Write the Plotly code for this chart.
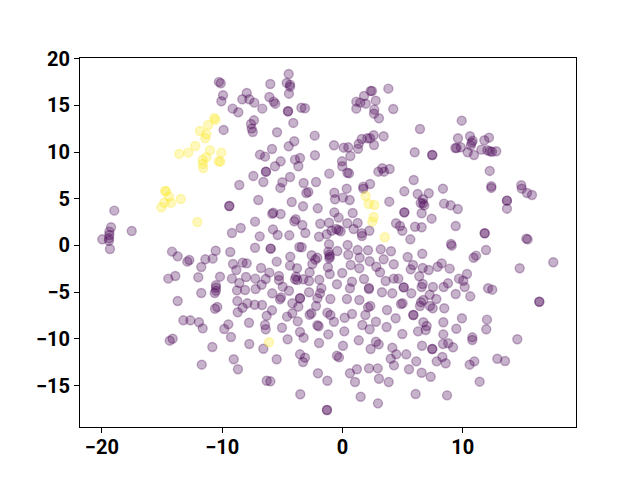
import plotly.graph_objects as go

yellow_x = [-10.66,-10.57,-11.16,-11.85,-11.32,-11.4,-12.24,-12.82,-13.57,-11.01,-10.07,-11.32,-11.62,-11.62,-11.57,-10.29,-10.16,
            -14.75,-14.67,-14.42,-14.81,-15.06,-14.26,-13.45,-12.07,1.93,2.18,2.64,2.59,2.48,3.51,-6.11]
yellow_y = [13.65,13.44,12.9,12.26,11.9,11.48,10.65,9.94,9.8,10.19,9.94,9.44,9.19,8.73,8.3,9.01,8.97,
            5.84,5.8,5.22,4.58,4.09,4.58,4.98,2.52,5.3,4.44,4.34,3.05,2.55,0.88,-10.36]

pairs_top = [
 (-10.27,17.51),(-10.12,17.37),(-9.93,16.08),(-10.07,15.44),(-7.96,16.33),(-8.33,15.65),(-7.75,15.65),(-9.13,14.65),(-8.66,14.26),(-9.88,12.37),(-8.58,6.48),
 (-4.47,18.36),(-6.0,17.29),(-4.64,17.4),(-4.36,17.22),(-4.36,17.0),(-4.45,16.25),(-7.33,15.29),(-6.08,15.9),(-5.72,15.4),(-5.59,15.18),(-6.67,14.65),
 (-4.53,14.37),(-4.53,14.37),(-3.42,14.75),(-3.12,14.69),(-4.09,13.12),(-7.36,13.4),(-7.61,13.01),(-7.55,12.51),(-7.46,12.15),(-5.44,12.12),(-2.31,11.76),
 (-4.01,11.16),(-4.47,10.62),(-5.86,10.33),(-6.86,9.72),(-6.44,9.51),(-2.29,9.66),(-3.53,9.37),(-3.95,9.19),(-5.14,9.01),(-5.61,8.48),(-3.67,8.48),
 (-6.36,7.9),(-6.36,7.9),(-7.41,7.44),(-6.58,6.8),(-5.0,6.77),(-4.36,7.33),(-5.17,6.16),(-3.23,6.69),(-2.2,6.8),(-1.1,7.69),(-0.71,10.73),(0.1,10.47),
 (0.48,10.51),(0.65,9.58),(-0.04,9.01),(-0.02,8.48),(0.4,7.79),(0.54,7.73),(1.29,10.36),(1.35,10.87),(1.6,11.4),(2.06,11.48),(2.29,11.48),(2.59,11.8),
 (3.42,11.69),(2.62,10.76),(1.15,15.4),(1.48,15.29),(1.93,15.18),(1.79,16.0),(2.34,16.54),(2.45,16.54),(1.15,14.65),(2.76,15.5),(2.64,14.54),(2.62,14.11),
 (3.03,13.62),(3.81,16.79),(4.22,14.61),(2.98,7.9),(3.31,8.27),(3.45,7.9),(3.92,8.19),(0.35,6.08),
 (9.91,13.36),(6.44,12.47),(9.6,11.48),(10.6,11.69),(10.82,11.22),(10.74,11.0),(10.66,10.69),(11.79,11.26),(12.18,11.54),(6.0,9.98),(7.46,9.69),(7.46,9.69),
 (9.38,10.44),(9.49,10.44),(9.83,10.51),(10.41,9.98),(10.93,9.69),(11.54,10.26),(12.04,10.19),(12.26,10.09),(12.43,10.04),(12.78,10.09),(12.24,7.98),(5.92,7.01),
 (8.35,6.08),(12.37,6.34),(12.37,6.16),(14.86,6.45),(14.9,6.08),
]
pairs_right = [
 (15.34,5.62),(15.75,5.41),(13.67,4.8),(13.67,4.8),(13.67,3.94),(5.14,5.8),(6.25,5.51),(7.17,5.59),(6.69,4.95),(6.5,4.55),(6.8,4.3),(6.69,4.52),(8.44,4.48),
 (8.99,4.3),(9.58,3.91),(5.14,3.55),(5.14,3.55),(6.58,3.45),(7.41,2.87),(6.03,2.01),(6.58,1.95),(9.41,2.09),(4.78,2.09),(4.97,1.58),(11.82,1.31),(11.82,1.31),
 (9.02,0.16),(9.08,-0.02),(5.64,0.66),(15.28,0.73),(15.39,0.66),(11.93,-0.48),(6.63,-0.88),(5.42,-1.23),(11.1,-1.09),(10.9,-1.31),(5.86,-2.09),(5.67,-2.55),
 (6.67,-2.41),(7.17,-2.62),(8.25,-1.91),(7.91,-2.27),(8.91,-2.48),(14.73,-2.44),(17.52,-1.8),(6.38,-3.3),(10.35,-3.05),(9.68,-3.55),(10.04,-3.77),
 (8.77,-4.05),(8.41,-4.44),(10.16,-4.44),(6.67,-4.12),(6.58,-4.44),(7.52,-4.44),(5.09,-4.48),(5.09,-4.48),(5.72,-5.12),(7.25,-5.27),(9.41,-5.19),(10.62,-5.44),
 (12.1,-4.58),(12.45,-4.73),(7.8,-5.73),(6.72,-5.84),(6.53,-6.08),(6.44,-6.48),(5.0,-6.19),(4.86,-6.26),(7.27,-6.48),(7.5,-6.72),(8.46,-6.72),(16.36,-6.02),(16.36,-6.02),
 (5.89,-7.44),(5.89,-7.44),(9.93,-7.79),(8.38,-8.22),(12.01,-7.94),(11.95,-8.97),(9.46,-8.91),(6.72,-8.22),(7.0,-8.62),(6.28,-9.19),(6.92,-9.05),(4.97,-9.48),
 (8.38,-9.51),(10.79,-9.83),(10.79,-10.12),(14.53,-10.04),(8.35,-10.55),(8.79,-10.47),(9.19,-10.9),(6.61,-10.73),(7.46,-11.08),(7.46,-11.08),(5.3,-11.65),(8.3,-11.94),
 (7.83,-12.4),(8.58,-12.61),(6.13,-12.4),(10.96,-12.4),(10.57,-12.76),(12.87,-12.12),(13.51,-12.37),(5.53,-13.25),(6.58,-13.62),(7.33,-14.05),(11.4,-14.58),
 (6.08,-15.9),(8.69,-16.04),
]
pairs_bottom = [
 (-7.77,-8.27),(-7.91,-6.19),(-7.3,-6.34),(-6.69,-6.37),(-6.3,-7.52),(-5.86,-6.94),(-6.44,-8.51),(-6.38,-8.97),(-5.03,-8.8),(-4.61,-7.62),(-4.17,-7.26),(-3.72,-8.12),
 (-4.17,-6.19),(-3.67,-6.55),(-2.2,-6.48),(-2.59,-7.26),(-2.73,-7.41),(-1.26,-7.19),(-1.01,-7.44),(-0.71,-8.16),(-2.09,-8.54),
 (-1.98,-8.65),(-3.53,-9.26),(-3.23,-9.87),(-1.18,-9.51),(0.15,-9.19),(0.79,-7.33),(0.18,-7.73),(1.9,-7.44),(2.12,-6.62),(2.31,-6.48),(1.65,-8.51),(2.26,-8.97),
 (2.78,-8.16),(3.7,-6.91),(4.42,-7.79),(3.67,-8.73),(-4.56,-10.04),(-7.75,-10.55),(-6.58,-11.05),(-5.47,-12.18),(-1.95,-10.44),(0.04,-10.73),(1.35,-10.15),(2.78,-10.3),
 (3.01,-10.58),(2.34,-11.08),(4.14,-10.94),(4.47,-11.65),(4.01,-12.12),(4.28,-12.83),(-3.53,-11.65),(-3.12,-12.01),(-3.28,-12.47),(-0.46,-11.8),(-0.29,-11.97),
 (-2.04,-13.68),(-1.26,-14.48),(-6.3,-14.48),(-6.0,-14.54),(-3.51,-15.93),(-1.29,-17.61),(-1.29,-17.61),(0.62,-13.68),(1.2,-13.25),(1.04,-14.61),(2.2,-13.15),
 (2.93,-13.15),(3.03,-14.26),(3.84,-14.61),(1.51,-16.19),(2.95,-16.9),
 (-13.7,-5.94),(-10.6,-6.77),(-10.41,-6.58),(-8.74,-5.94),(-8.3,-6.66),(-8.71,-7.15),(-13.23,-8.01),(-12.65,-8.01),(-11.93,-8.22),(-11.62,-8.87),(-9.49,-8.44),(-9.83,-8.94),
 (-9.27,-9.8),(-14.12,-9.98),(-14.36,-10.19),(-10.82,-10.87),(-11.7,-12.76),(-9.04,-12.18),(-8.69,-13.25),
]
pairs_left = [
 (-9.41,4.23),(-9.41,4.23),(-18.97,3.73),(-19.24,1.95),(-17.52,1.55),(-19.38,1.48),(-19.38,1.12),(-19.41,0.77),(-19.41,0.51),(-19.97,0.66),(-19.33,-0.37),(-8.46,1.87),
 (-9.19,1.34),(-9.33,-0.7),(-10.54,-0.56),(-10.79,-1.41),(-11.4,-1.48),(-11.74,-2.3),(-14.17,-0.66),(-13.7,-1.16),(-12.73,-1.55),(-12.9,-1.73),(-13.9,-3.27),(-14.48,-3.55),
 (-11.99,-3.4),(-10.18,-3.34),(-9.19,-3.55),(-9.1,-1.98),(-8.83,-2.62),(-8.3,-1.84),(-7.96,-1.91),(-8.02,-3.37),(-8.58,-4.01),(-8.77,-4.8),(-8.1,-4.76),
 (-10.52,-4.26),(-10.52,-4.52),(-10.52,-4.84),(-10.62,-5.09),(-11.74,-5.09),
]
pairs_center = [
 (-3.01,5.62),(-2.84,5.73),(-7.0,4.87),(-4.22,4.66),(-3.28,4.2),(-2.06,3.98),(-0.68,5.65),(-0.62,4.95),(0.04,5.12),(0.6,4.87),(1.73,6.3),(1.73,6.08),(2.29,6.58),
 (3.89,4.69),(-0.68,3.55),(-0.32,2.98),(0.85,3.48),(0.4,2.38),(1.26,2.41),(-1.85,2.33),(-1.12,2.44),(-5.75,3.51),(-5.84,3.4),(-5.14,3.37),(-3.89,2.81),(-4.01,2.59),(-3.34,2.19),
 (-7.27,2.55),(-5.78,1.73),(-5.39,1.12),(-6.88,0.98),(-4.42,1.09),(-3.09,1.34),(-1.95,0.94),(-1.31,1.2),(-0.9,1.58),(-0.52,1.77),(-0.32,1.66),(-0.15,1.52),(0.93,1.77),(1.6,1.31),
 (1.62,1.02),(2.23,1.58),(4.45,2.38),(-7.27,-0.24),(-5.97,-0.34),(-5.97,-0.34),(-3.59,-0.16),(-3.39,-0.19),(-1.12,0.13),(0.43,0.05),(-1.18,-0.66),(-1.1,-0.99),
 (-1.04,-1.2),(-1.1,-1.37),(-0.43,-0.59),(0.48,-0.99),(1.26,-0.48),(2.12,-0.51),(3.18,-0.41),(4.03,-0.62),(1.43,-1.31),(2.26,-1.69),(3.42,-1.48),(4.26,-2.01),(-5.47,-1.73),
 (-4.34,-1.2),(-2.56,-1.05),(-2.09,-1.31),(-2.26,-1.52),(-2.51,-1.98),(-4.36,-2.16),(-3.78,-2.44),(-1.21,-2.33),(-1.06,-3.05),(-0.02,-2.94),(-2.73,-2.87),(0.68,-2.09),(1.4,-2.44),
 (2.81,-2.27),(3.12,-2.87),(1.79,-3.59),(0.79,-3.88),(3.59,-3.8),(4.26,-3.55),(4.64,-3.55),(-6.77,-2.41),(-6.08,-2.91),(-6.38,-3.59),(-7.25,-3.55),(-5.28,-3.27),(-5.28,-3.69),
 (-3.87,-3.34),(-3.76,-3.69),(-3.95,-3.62),(-3.26,-3.62),(-2.78,-3.8),(-1.93,-3.66),(-0.46,-4.15),(0.62,-4.58),(2.2,-4.55),(2.2,-4.66),(3.28,-5.01),(4.14,-5.12),(-7.22,-4.66),
 (-6.72,-4.2),(-4.97,-4.41),(-5.84,-5.12),(-4.45,-4.84),(-2.78,-5.01),(-3.53,-5.65),(-3.53,-5.65),(-5.11,-5.55),(-5.2,-5.76),(-1.76,-4.58),(-1.87,-5.12),(-2.09,-5.65),
 (-1.01,-5.73),(0.37,-5.73),(1.4,-5.84),
]
purple = pairs_top + pairs_right + pairs_bottom + pairs_left + pairs_center
purple_x = [p[0] for p in purple]
purple_y = [p[1] for p in purple]

x_ticks = [-20, -10, 0, 10]
y_ticks = [-15, -10, -5, 0, 5, 10, 15, 20]


def trace(xs, ys, fill, edge):
    return go.Scatter(x=xs, y=ys, mode="markers", showlegend=False, cliponaxis=True,
                      marker=dict(size=9, color=fill, line=dict(color=edge, width=1.4)))


fig = go.Figure()
fig.add_trace(trace(purple_x, purple_y, "rgba(68,1,84,0.3)", "rgba(68,1,84,0.3)"))
fig.add_trace(trace(yellow_x, yellow_y, "rgba(253,231,37,0.3)", "rgba(253,231,37,0.3)"))

axis = dict(showgrid=False, zeroline=False, showline=True, mirror=True, linecolor="black", linewidth=1,
            ticks="outside", ticklen=5, tickwidth=1, tickcolor="black",
            tickfont=dict(family="Roboto", size=20, color="black", weight=700))
fig.update_layout(
    width=632, height=472, autosize=False,
    margin=dict(l=72, r=64, t=50, b=53),
    paper_bgcolor="white", plot_bgcolor="white",
    xaxis=dict(axis, range=[-21.82, 19.41], tickvals=x_ticks, ticktext=["\u221220", "\u221210", "0", "10"],
               ticklabelstandoff=-3),
    yaxis=dict(axis, range=[-19.43, 20.07], tickvals=y_ticks,
               ticktext=["\u221215", "\u221210", "\u22125", "0", "5", "10", "15", "20"]),
)
fig.write_html("out.html")
